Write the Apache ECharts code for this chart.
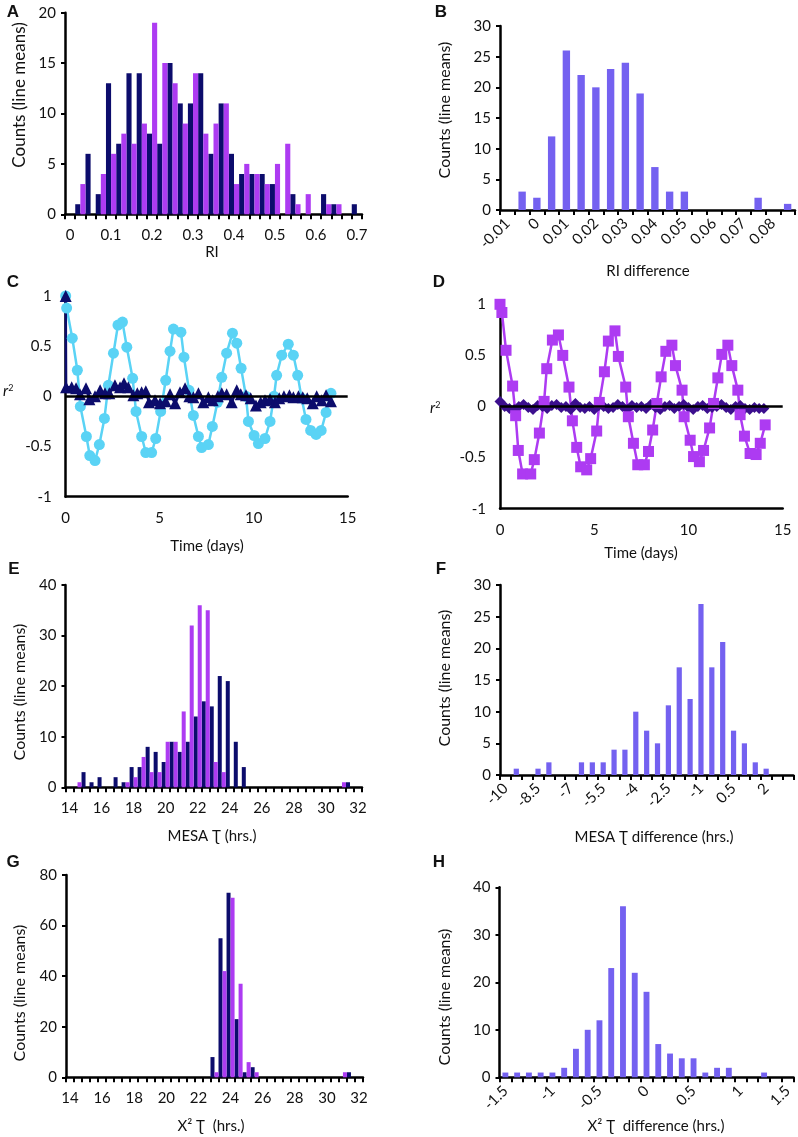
<!DOCTYPE html>
<html><head><meta charset="utf-8">
<script src="https://cdn.jsdelivr.net/npm/echarts@6/dist/echarts.min.js"></script>
<style>html,body{margin:0;padding:0;background:#fff}#c{width:798px;height:1137px}</style>
</head><body><div id="c"></div>
<script>
// ---- Panel A: RI histogram (two series) ----
const aCats = ['0','0.025','0.05','0.075','0.1','0.125','0.15','0.175','0.2','0.225','0.25','0.275','0.3','0.325','0.35','0.375','0.4','0.425','0.45','0.475','0.5','0.525','0.55','0.575','0.6','0.625','0.65','0.675','0.7'];
const aNavy   = [0,1,6,2,13,7,14,14,8,7,15,11,11,14,6,11,6,4,4,4,3,0,2,0,0,2,1,0,1];
const aPurple = [0,3,0,4,6,8,7,9,19,15,13,9,14,8,9,11,3,5,4,3,5,7,1,2,0,1,1,0,0];
// ---- Panel B: RI difference ----
const bCats = ['-0.01','-0.005','0','0.005','0.01','0.015','0.02','0.025','0.03','0.035','0.04','0.045','0.05','0.055','0.06','0.065','0.07','0.075','0.08','0.085'];
const bVals = [0,3,2,12,26,22,20,23,24,19,7,3,3,0,0,0,0,2,0,1];
// ---- Panel C: autocorrelation ----
const cCircT = [0,0.05,0.35,0.62,0.78,1.1,1.28,1.56,1.79,2.06,2.27,2.54,2.78,3.02,3.25,3.56,3.74,4.04,4.26,4.57,4.79,5.05,5.32,5.55,5.73,6.13,6.29,6.56,6.79,7.06,7.23,7.59,7.8,8.07,8.3,8.56,8.87,9.1,9.33,9.59,9.72,10.02,10.25,10.6,10.87,11.08,11.22,11.49,11.84,12.11,12.34,12.55,12.78,13.03,13.32,13.59,13.85,14.11];
const cCircR = [1.0,0.88,0.58,0.26,-0.1,-0.4,-0.59,-0.64,-0.48,-0.22,0.11,0.43,0.71,0.74,0.49,0.18,-0.15,-0.4,-0.56,-0.56,-0.42,-0.15,0.16,0.45,0.67,0.64,0.39,0.06,-0.19,-0.4,-0.51,-0.48,-0.3,-0.06,0.19,0.43,0.63,0.53,0.28,0.0,-0.25,-0.39,-0.47,-0.42,-0.25,0.0,0.21,0.41,0.52,0.41,0.21,-0.02,-0.23,-0.34,-0.38,-0.34,-0.16,0.03];
const cTriT = [0,0.02,0.32,0.55,0.76,1.08,1.26,1.56,1.83,2.09,2.32,2.62,2.89,3.1,3.33,3.6,3.81,4.04,4.26,4.43,4.75,5.02,5.32,5.55,5.82,6.08,6.35,6.58,6.79,7.06,7.32,7.59,7.82,8.09,8.3,8.56,8.83,9.1,9.31,9.59,9.84,10.12,10.37,10.6,10.87,11.13,11.36,11.61,11.9,12.11,12.38,12.61,12.85,13.14,13.35,13.62,13.85,14.11];
const cTriR = [1.0,0.09,0.09,0.08,0.02,0.08,-0.03,0,0.06,0.03,0.03,0.11,0.09,0.13,0.09,0.01,0.03,0.04,0.05,-0.06,-0.04,-0.07,-0.05,0.02,-0.07,0.04,0.08,0,-0.01,0.03,-0.06,-0.01,-0.04,0,0.03,0.02,-0.06,0.06,0.02,0.01,-0.02,-0.09,-0.06,-0.04,-0.03,-0.06,-0.02,0,0.01,-0.01,0,-0.01,-0.02,-0.07,0,-0.04,0.01,-0.05];
// ---- Panel D ----
const dSqT = [0,0.1,0.32,0.67,0.83,0.97,1.2,1.63,1.82,2.09,2.34,2.48,2.78,3.1,3.33,3.66,3.84,4.07,4.28,4.6,4.81,5.13,5.27,5.54,5.75,6.1,6.28,6.67,6.81,7.08,7.31,7.66,7.88,8.1,8.32,8.55,8.8,9.12,9.31,9.66,9.77,10.09,10.27,10.58,10.8,11.12,11.33,11.56,11.77,12.09,12.3,12.62,12.74,12.97,13.27,13.59,13.81,14.07];
const dSqR = [1.0,0.92,0.55,0.2,-0.09,-0.43,-0.66,-0.66,-0.52,-0.26,0.05,0.37,0.65,0.7,0.5,0.19,-0.14,-0.4,-0.59,-0.62,-0.51,-0.24,0.04,0.34,0.64,0.74,0.49,0.19,-0.1,-0.36,-0.57,-0.57,-0.44,-0.23,0.03,0.29,0.54,0.6,0.4,0.16,-0.1,-0.33,-0.49,-0.54,-0.43,-0.21,0.03,0.28,0.51,0.6,0.4,0.16,-0.08,-0.29,-0.46,-0.47,-0.36,-0.18];
const dDiaT = [0,0.25,0.5,0.75,1,1.25,1.5,1.75,2,2.25,2.5,2.75,3,3.25,3.5,3.75,4,4.25,4.5,4.75,5,5.25,5.5,5.75,6,6.25,6.5,6.75,7,7.25,7.5,7.75,8,8.25,8.5,8.75,9,9.25,9.5,9.75,10,10.25,10.5,10.75,11,11.25,11.5,11.75,12,12.25,12.5,12.75,13,13.25,13.5,13.75,14];
const dDiaR = [0.05,0.0,-0.02,-0.03,0.0,0.02,-0.01,-0.03,0.01,0.0,-0.02,0.01,0.02,-0.01,0.0,-0.03,0.03,-0.01,-0.02,0.0,-0.03,0.01,0.0,-0.02,-0.01,0.02,0.0,-0.03,0.01,-0.01,0.0,-0.02,0.02,-0.01,-0.03,0.0,0.01,-0.02,0.0,0.02,-0.01,-0.03,0.0,0.01,-0.02,-0.01,0.0,0.02,-0.01,-0.03,0.0,0.01,-0.02,-0.03,-0.01,-0.02,-0.02];
// ---- Panels E, G: period histograms ----
const tauCats = ['14','14.5','15','15.5','16','16.5','17','17.5','18','18.5','19','19.5','20','20.5','21','21.5','22','22.5','23','23.5','24','24.5','25','25.5','26','26.5','27','27.5','28','28.5','29','29.5','30','30.5','31','31.5','32'];
const eNavy   = [0,0,3,1,2,0,2,1,4,4,8,7,5,9,7,9,14,17,16,22,21,9,4,0,0,0,0,0,0,0,0,0,0,0,0,1,0];
const ePurple = [0,1,0,0,0,0,0,1,2,6,3,3,9,9,15,32,36,35,5,3,0,0,0,0,0,0,0,0,0,0,0,0,0,0,1,0,0];
const gNavy   = [0,0,0,0,0,0,0,0,0,0,0,0,0,0,0,0,0,0,8,55,73,23,2,4,0,0,0,0,0,0,0,0,0,0,0,2,0];
const gPurple = [0,0,0,0,0,0,0,0,0,0,0,0,0,0,0,0,0,0,2,42,71,37,6,2,0,0,0,0,0,0,0,0,0,0,2,0,0];
// ---- Panel F ----
const fCats = ['-10','-9.5','-9','-8.5','-8','-7.5','-7','-6.5','-6','-5.5','-5','-4.5','-4','-3.5','-3','-2.5','-2','-1.5','-1','-0.5','0','0.5','1','1.5','2','2.5','3'];
const fVals = [0,1,0,1,2,0,0,2,2,2,4,4,10,7,5,11,17,12,27,17,21,7,5,2,1,0,0];
// ---- Panel H ----
const hCats = ['-1.5','-1.375','-1.25','-1.125','-1','-0.875','-0.75','-0.625','-0.5','-0.375','-0.25','-0.125','0','0.125','0.25','0.375','0.5','0.625','0.75','0.875','1','1.125','1.25','1.375','1.5'];
const hVals = [1,1,1,1,1,2,6,10,12,23,36,22,18,7,5,4,4,1,2,2,0,0,1,0,0];

const NAVY = '#0c0c6c', PURPLE = '#ad3bf2', VIOLET = '#7461f0', LIGHT = '#5ad3f5', DARKP = '#3c0f8e';
const FONT = 'Lato';
const zip = (a, b) => a.map((v, i) => [v, b[i]]);

const grids = [
  {left:65, top:12.7, width:297, height:201.6},
  {left:500, top:26, width:295, height:184},
  {left:65.7, top:296, width:282, height:200.7},
  {left:500, top:304.3, width:282.7, height:204.4},
  {left:65.5, top:585, width:296.5, height:202.3},
  {left:500, top:585, width:293.3, height:190},
  {left:66, top:875, width:297, height:202.3},
  {left:499.5, top:887.3, width:294, height:190}
];
const axLine = {show:true, onZero:false, lineStyle:{color:'#000', width:2.5}};
function catAxis(idx, cats, interval, rotate) {
  return {type:'category', gridIndex:idx, data:cats, boundaryGap:true,
    axisLine: axLine,
    axisTick:{show:true, interval:0, length:5, lineStyle:{color:'#000', width:2}},
    axisLabel:{interval:interval, rotate:rotate||0, margin: rotate ? 11 : 13, fontSize:15, color:'#111', fontFamily:FONT},
    splitLine:{show:false}};
}
function valY(idx, max, interval) {
  return {type:'value', gridIndex:idx, min:0, max:max, interval:interval,
    axisLine: axLine, axisTick:{show:true, length:4, lineStyle:{color:'#000', width:2}},
    axisLabel:{fontSize:15, color:'#111', fontFamily:FONT, margin:9}, splitLine:{show:false}};
}
function timeX(idx) {
  return {type:'value', gridIndex:idx, min:0, max:15, interval:5,
    axisLine: axLine, axisTick:{show:false},
    axisLabel:{fontSize:15, color:'#111', fontFamily:FONT, margin:14}, splitLine:{show:false}};
}
function rY(idx) {
  return {type:'value', gridIndex:idx, min:-1, max:1, interval:0.5,
    axisLine: axLine, axisTick:{show:false},
    axisLabel:{fontSize:15, color:'#111', fontFamily:FONT, margin:14}, splitLine:{show:false}};
}
function bar(idx, data, color, extra) {
  return Object.assign({type:'bar', xAxisIndex:idx, yAxisIndex:idx, data:data,
    itemStyle:{color:color}, barGap:'0%', barCategoryGap:'0%'}, extra||{});
}
const zeroLine = {silent:true, symbol:['none','none'], label:{show:false},
  lineStyle:{color:'#000', width:2.5, type:'solid'}, data:[{yAxis:0}]};
function lineS(idx, data, symbol, size, color, extra) {
  return Object.assign({type:'line', xAxisIndex:idx, yAxisIndex:idx, data:data,
    symbol:symbol, symbolSize:size, showSymbol:true,
    lineStyle:{color:color, width:2.5}, itemStyle:{color:color}}, extra||{});
}

function txt(x, y, text, font, rot) {
  return {type:'text', x:x, y:y, rotation: rot||0,
    style:{text:text, font:font, fill:'#111', textAlign:'center', textVerticalAlign:'middle'}};
}
const letterFont = 'bold 17px "Liberation Sans", Arial, sans-serif';
const nameFont = '15px Lato';
const yNameFont = '16px Lato';
const graphic = [
  txt(13,12,'A',letterFont), txt(441,12,'B',letterFont), txt(13,282,'C',letterFont), txt(439,282,'D',letterFont),
  txt(14,569,'E',letterFont), txt(441,569,'F',letterFont), txt(13,862,'G',letterFont), txt(439,862,'H',letterFont),
  txt(20,95,'Counts (line means)','17px Lato',Math.PI/2),
  txt(445,110,'Counts (line means)',yNameFont,Math.PI/2),
  txt(20,692,'Counts (line means)',yNameFont,Math.PI/2),
  txt(445,678,'Counts (line means)',yNameFont,Math.PI/2),
  txt(20,993,'Counts (line means)',yNameFont,Math.PI/2),
  txt(445,997,'Counts (line means)',yNameFont,Math.PI/2),
  txt(212,252,'RI',nameFont),
  txt(648,271,'RI difference',nameFont),
  txt(207,546,'Time (days)',nameFont),
  txt(641,553,'Time (days)',nameFont),
  txt(212,836,'MESA Ʈ (hrs.)',nameFont),
  txt(654,837,'MESA Ʈ difference (hrs.)',nameFont),
  txt(211,1126,'X² Ʈ  (hrs.)',nameFont),
  txt(656,1126,'X² Ʈ  difference (hrs.)',nameFont),
  {type:'text', x:3, y:384, style:{text:'{i|r}{s|2}', fill:'#111',
    rich:{i:{fontStyle:'italic', fontSize:15, fontFamily:FONT, verticalAlign:'bottom'}, s:{fontSize:9, fontFamily:FONT, verticalAlign:'top'}}}},
  {type:'text', x:430, y:401, style:{text:'{i|r}{s|2}', fill:'#111',
    rich:{i:{fontStyle:'italic', fontSize:15, fontFamily:FONT, verticalAlign:'bottom'}, s:{fontSize:9, fontFamily:FONT, verticalAlign:'top'}}}}
];

const option = {
  animation:false,
  textStyle:{fontFamily:FONT},
  grid: grids,
  xAxis: [catAxis(0,aCats,3), catAxis(1,bCats,1,45), timeX(2), timeX(3),
          catAxis(4,tauCats,3), catAxis(5,fCats,2,45), catAxis(6,tauCats,3), catAxis(7,hCats,3,45)],
  yAxis: [valY(0,20,5), valY(1,30,5), rY(2), rY(3), valY(4,40,10), valY(5,30,5), valY(6,80,20), valY(7,40,10)],
  series: [
    bar(0,aNavy,NAVY), bar(0,aPurple,PURPLE),
    bar(1,bVals,VIOLET,{barCategoryGap:'50%'}),
    lineS(2, zip(cCircT,cCircR), 'circle', 11, LIGHT, {markLine:zeroLine}),
    lineS(2, zip(cTriT,cTriR), 'triangle', 12, NAVY),
    lineS(3, zip(dDiaT,dDiaR), 'diamond', 11, DARKP, {markLine:zeroLine}),
    lineS(3, zip(dSqT,dSqR), 'rect', 11, PURPLE),
    bar(4,eNavy,NAVY), bar(4,ePurple,PURPLE),
    bar(5,fVals,VIOLET,{barCategoryGap:'52%'}),
    bar(6,gNavy,NAVY), bar(6,gPurple,PURPLE),
    bar(7,hVals,VIOLET,{barCategoryGap:'50%'})
  ],
  graphic: graphic
};
const chart = echarts.init(document.getElementById('c'), null, {renderer:'canvas'});
chart.setOption(option);
</script></body></html>
